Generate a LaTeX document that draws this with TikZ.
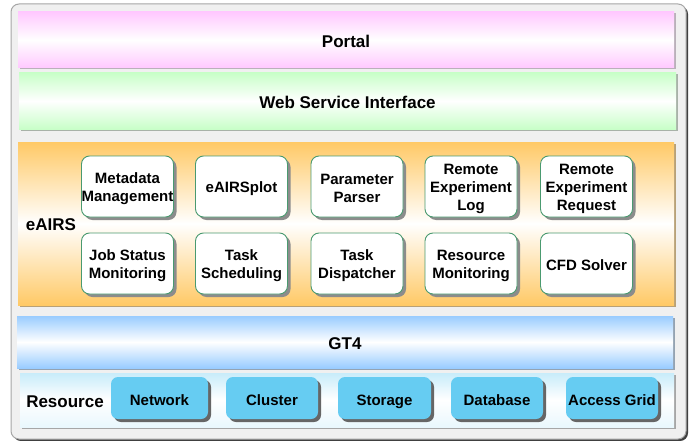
\documentclass[tikz,border=0pt]{standalone}
\usepackage{fontspec}
\setmainfont{Liberation Sans}
\usetikzlibrary{shadows}
\definecolor{pinkc}{HTML}{FFC8FF}
\definecolor{greenc}{HTML}{C8FFC8}
\definecolor{orangec}{HTML}{FFC966}
\definecolor{bluec}{HTML}{99CCFF}
\definecolor{cyanc}{HTML}{C8ECFA}
\definecolor{modgreen}{HTML}{4A9A70}
\definecolor{resblue}{HTML}{66CCF2}
\tikzset{
  band/.style={minimum width=#1, inner sep=0pt},
  bandtext/.style={font=\bfseries\fontsize{17}{20}\selectfont, inner sep=0pt},
  mod/.style={draw=modgreen, line width=0.9pt, fill=white, rounded corners=8pt,
    minimum width=92pt, minimum height=61pt, inner sep=0pt,
    drop shadow={shadow xshift=3pt, shadow yshift=-3pt, fill=gray!90, opacity=1}},
  modtext/.style={inner sep=0pt, align=center, font=\bfseries\fontsize{15}{18}\selectfont},
  res/.style={fill=resblue, rounded corners=7pt, minimum height=42pt, inner sep=0pt,
    text height=14pt, text depth=0pt,
    font=\bfseries\fontsize{15}{18}\selectfont,
    drop shadow={shadow xshift=3pt, shadow yshift=-3pt, fill=black!60, opacity=1}},
  lbl/.style={font=\bfseries\fontsize{17}{20}\selectfont, inner sep=0pt}
}
\begin{document}
\begin{tikzpicture}[x=1pt,y=-1pt]
\useasboundingbox (0,0) rectangle (698,441);
% outer frame
\fill[black!75, rounded corners=8pt] (13,6) rectangle (688,441);
\draw[draw=black!35, fill=black!6, line width=1pt, rounded corners=8pt] (11,4) rectangle (686,439);
% Portal
\fill[pinkc!40!black!45] (19.5,13.5) rectangle (675.5,69.5);
\node[band=656pt, minimum height=56pt, top color=pinkc, bottom color=pinkc, middle color=white] (portal) at (346,40) {};
\node[bandtext] (portaltxt) at ([yshift=-1pt]portal) {Portal};
% Web service
\fill[greenc!40!black!50] (20.5,74.5) rectangle (677.5,130.5);
\node[band=657pt, minimum height=56pt, top color=greenc, bottom color=greenc, middle color=white] (ws) at (347.5,101) {};
\node[bandtext] (wstxt) at ([yshift=-1pt]ws) {Web Service Interface};
% eAIRS
\fill[orangec!60!black!70] (19.5,143.5) rectangle (675.5,306.5);
\node[band=656pt, minimum height=163pt, top color=orangec, bottom color=orangec, middle color=white] (eairs) at (346,223.5) {};
\node[lbl] (eairslbl) at (51,225) {eAIRS};
% GT4
\fill[bluec!50!black!60] (18.5,317.5) rectangle (674.5,369.5);
\node[band=656pt, minimum height=52pt, top color=bluec, bottom color=bluec, middle color=white] (gt4) at (345,342) {};
\node[bandtext] (gt4txt) at ([yshift=-1.5pt]gt4) {GT4};
% Resource
\fill[black!35] (21.5,374.5) rectangle (675.5,428.5);
\node[band=654pt, minimum height=54pt, top color=cyanc, bottom color=cyanc!40, middle color=white] (resband) at (347,400) {};
\node[lbl] (reslbl) at (65,401.5) {Resource};
% modules row 1
\node[mod] (meta) at (127.5,186.5) {};
\node[mod] (plot) at (241.5,186.5) {};
\node[mod] (parser) at (357,186.5) {};
\node[mod] (rlog) at (471,186.5) {};
\node[mod] (rreq) at (586.5,186.5) {};
% modules row 2
\node[mod] (job) at (127.5,263.5) {};
\node[mod] (sched) at (241.5,263.5) {};
\node[mod] (disp) at (357,263.5) {};
\node[mod] (rmon) at (471,263.5) {};
\node[mod] (cfd) at (586.5,263.5) {};
% module texts
\node[modtext] (metat) at ([yshift=-2pt]meta) {Metadata\\Management};
\node[modtext] (plott) at ([yshift=-2pt]plot) {eAIRSplot};
\node[modtext] (parsert) at ([yshift=-2pt]parser) {Parameter\\Parser};
\node[modtext] (rlogt) at ([yshift=-2pt]rlog) {Remote\\Experiment\\Log};
\node[modtext] (rreqt) at ([yshift=-2pt]rreq) {Remote\\Experiment\\Request};
\node[modtext] (jobt) at ([yshift=-2pt]job) {Job Status\\Monitoring};
\node[modtext] (schedt) at ([yshift=-2pt]sched) {Task\\Scheduling};
\node[modtext] (dispt) at ([yshift=-2pt]disp) {Task\\Dispatcher};
\node[modtext] (rmont) at ([yshift=-2pt]rmon) {Resource\\Monitoring};
\node[modtext] (cfdt) at ([yshift=-2pt]cfd) {CFD Solver};
% resources
\node[res, minimum width=97pt] (net) at (159.5,398) {Network};
\node[res, minimum width=92pt] (clu) at (272,398) {Cluster};
\node[res, minimum width=93pt] (sto) at (384.5,398) {Storage};
\node[res, minimum width=92pt] (db) at (497,398) {Database};
\node[res, minimum width=92pt] (ag) at (612,398) {Access Grid};
\end{tikzpicture}
\end{document}
